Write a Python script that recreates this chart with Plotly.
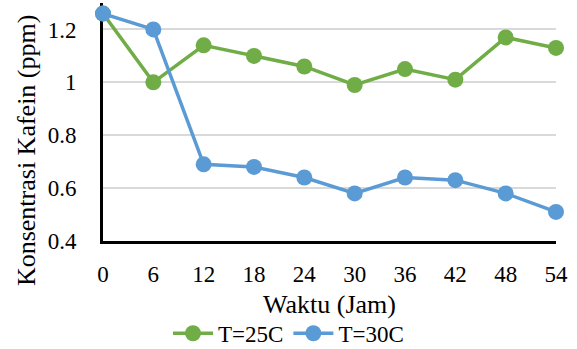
import plotly.graph_objects as go

# Sampling time (hours) and caffeine concentration (ppm) at two temperatures
waktu = [0, 6, 12, 18, 24, 30, 36, 42, 48, 54]
kafein_25c = [1.26, 1.00, 1.14, 1.10, 1.06, 0.99, 1.05, 1.01, 1.17, 1.13]
kafein_30c = [1.26, 1.20, 0.69, 0.68, 0.64, 0.58, 0.64, 0.63, 0.58, 0.51]

y_ticks = [0.4, 0.6, 0.8, 1.0, 1.2]
y_tick_text = ["0.4", "0.6", "0.8", "1", "1.2"]

GREEN = "#70AD47"
BLUE = "#5B9BD5"
FONT = "Liberation Serif"

fig = go.Figure()
for name, vals, color in [("T=25C", kafein_25c, GREEN), ("T=30C", kafein_30c, BLUE)]:
    fig.add_trace(go.Scatter(
        x=waktu, y=vals, name=name, mode="lines+markers",
        line=dict(color=color, width=3.5),
        marker=dict(color=color, size=16),
        cliponaxis=False,
    ))

fig.update_layout(
    width=577, height=349,
    margin=dict(l=103, r=21, t=3, b=108, autoexpand=False),
    paper_bgcolor="white", plot_bgcolor="white",
    font=dict(family=FONT, size=23, color="black"),
    showlegend=True,
    legend=dict(
        orientation="h", xref="container", yref="container",
        x=0.5, xanchor="center", y=0.045, yanchor="middle",
        font=dict(size=23, family=FONT), itemwidth=40, tracegroupgap=0,
    ),
    xaxis=dict(
        range=[0, 54], tickvals=waktu, ticktext=[str(w) for w in waktu],
        showgrid=False, zeroline=False, automargin=False,
        showline=True, linecolor="black", linewidth=3, layer="below traces",
        ticks="", ticklabelstandoff=10,
        tickfont=dict(family=FONT, size=23),
    ),
    yaxis=dict(
        range=[0.4, 1.3], tickvals=y_ticks, ticktext=y_tick_text,
        showgrid=True, gridcolor="#D9D9D9", gridwidth=1.5, zeroline=False, automargin=False,
        showline=True, linecolor="black", linewidth=3, layer="below traces",
        ticks="", ticklabelstandoff=19,
        tickfont=dict(family=FONT, size=23),
    ),
    annotations=[
        dict(
            text="Konsentrasi Kafein (ppm)", textangle=-90,
            xref="paper", yref="paper", x=-0.17, y=0.382,
            xanchor="center", yanchor="middle", showarrow=False,
            font=dict(size=26, family=FONT, color="black"),
        ),
        dict(
            text="Waktu (Jam)",
            xref="paper", yref="paper", x=0.5, y=-0.265,
            xanchor="center", yanchor="middle", showarrow=False,
            font=dict(size=26, family=FONT, color="black"),
        ),
    ],
)

fig.write_html("out.html")
